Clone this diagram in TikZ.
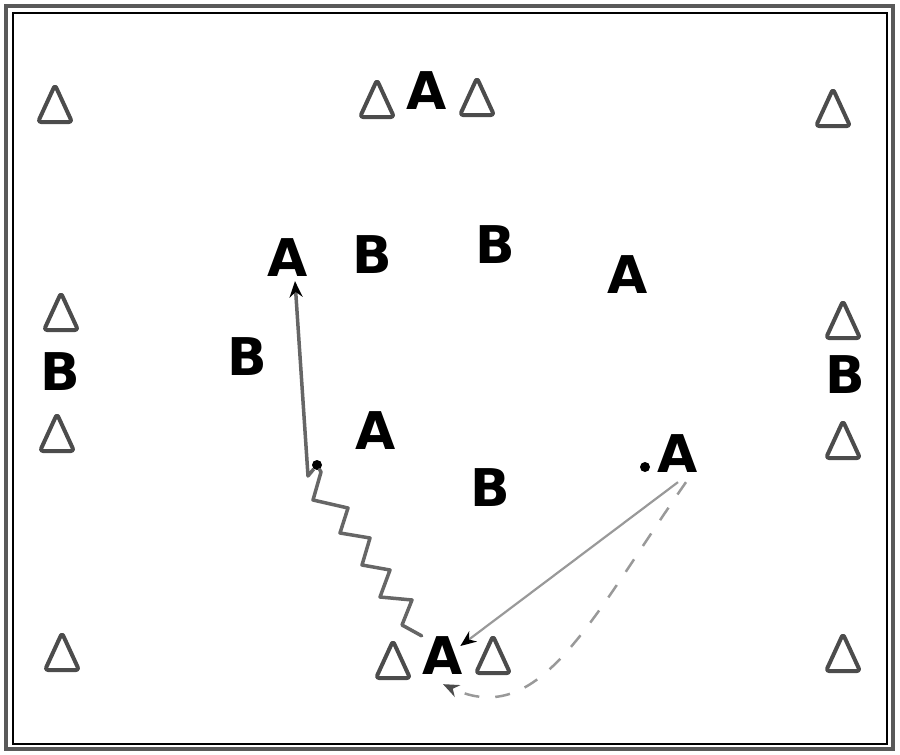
\documentclass[tikz,border=0pt]{standalone}
\usepackage{fontspec}
\usepackage{tikz}
\usetikzlibrary{arrows.meta}
\newfontfamily\playerfont{DejaVu Sans}

\tikzset{
  player/.style={font=\playerfont\bfseries\fontsize{52}{52}\selectfont,inner sep=1pt},
  cone/.style={draw=black!70,line width=4pt,rounded corners=3pt,line join=round},
  ball/.style={circle,fill=black,inner sep=0pt,minimum size=10pt},
  dribble/.style={draw=black!60,line width=3.5pt,line join=round,line cap=round},
  run/.style={draw=black!60,line width=3.5pt,line join=round,-{Stealth[length=16pt,width=13pt,color=black]}},
  pass/.style={draw=black!40,line width=2.2pt,-{Stealth[length=16pt,width=13pt,color=black]}},
  support/.style={draw=black!40,line width=2.5pt,dash pattern=on 15pt off 16pt,-{Stealth[length=16pt,width=13pt,color=black!70]}}
}

\begin{document}
\begin{tikzpicture}[x=1pt,y=-1pt]
        \useasboundingbox (0,0) rectangle (900,755);
        \draw[gray!70!black,line width=3.5pt] (6,6) rectangle (893,749);
        \draw[black,line width=1.2pt] (13,13) rectangle (887,744);
        % cones
        \foreach \x/\y in {55/104, 377/99, 477/97, 833/108, 61/312, 57/433,
                           843/320, 843/440, 62/652, 393/660, 493/655, 843/653}
            \draw[cone] (\x,\y) +(0,-19) -- +(17,18) -- +(-17,18) -- cycle;
        % players
        \node[player] (Atop)    at (427,91)  {A};
        \node[player] (Aleft)   at (288,258) {A};
        \node[player] (Bleft)   at (372,255) {B};
        \node[player] (Bright)  at (495,245) {B};
        \node[player] (Aright)  at (628,275) {A};
        \node[player] (Bmid)    at (247,357) {B};
        \node[player] (Bwest)   at (60,372)  {B};
        \node[player] (Beast)   at (845,375) {B};
        \node[player] (Acentre) at (376,431) {A};
        \node[player] (Bcentre) at (490,488) {B};
        \node[player] (Aball)   at (678,454) {A};
        \node[player] (Abottom) at (443,656) {A};
        \node[ball] (ball) at (645,467) {};
        \node[ball] (turn) at (317,465) {};
        % dribble, then run
        \draw[dribble] (Abottom.north west) -- (402,625) -- (412,600) -- (380,597) -- (390,570)
              -- (362,565) -- (370,538) -- (340,533) -- (348,508) -- (313,500) -- (321,472) -- (turn);
        \draw[run] (turn) -- ++(-9,11) -- ([xshift=7pt,yshift=-3pt]Aleft.south);
        % pass and support run
        \draw[pass] ([yshift=-8pt]Aball.south) -- ([xshift=-4pt,yshift=10pt]Abottom.east);
        \draw[support] ([xshift=8pt,yshift=-8pt]Aball.south) .. controls (590,620) and (540,730) .. ([yshift=-8pt]Abottom.south);
    \end{tikzpicture}
\end{document}
